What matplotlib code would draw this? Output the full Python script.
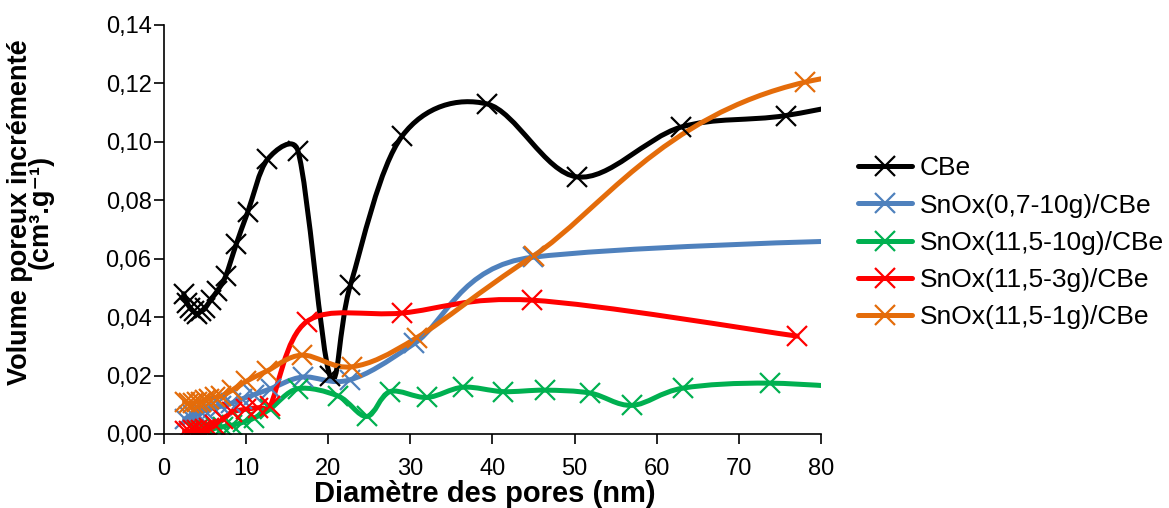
import numpy as np
import matplotlib.pyplot as plt
from matplotlib.path import Path
from matplotlib.patches import PathPatch
from matplotlib.lines import Line2D

plt.rcParams['font.family'] = ['Liberation Sans', 'DejaVu Sans']

# Données (diamètre en nm, volume en cm3/g)
cbe_x = [2.4, 2.8, 3.2, 3.6, 4.0, 4.5, 5.0, 5.7, 6.5, 7.5, 8.8, 10.2, 12.6, 16.3, 20.2, 22.7, 29.0, 39.3, 50.3, 62.9, 75.7, 90.0]
cbe_y = [0.048, 0.045, 0.043, 0.042, 0.041, 0.042, 0.043, 0.046, 0.049, 0.054, 0.065, 0.076, 0.094, 0.097, 0.020, 0.051, 0.102, 0.113, 0.088, 0.105, 0.109, 0.117]

sn07_x = [2.5, 3.0, 3.5, 4.0, 4.5, 5.0, 6.0, 7.0, 8.2, 9.5, 11.0, 13.0, 16.9, 22.6, 30.5, 44.9, 150.0]
sn07_y = [0.005, 0.006, 0.0065, 0.007, 0.0075, 0.008, 0.009, 0.0095, 0.0105, 0.012, 0.0135, 0.0155, 0.0195, 0.0185, 0.031, 0.0605, 0.0705]

sn10_x = [4.0, 4.5, 5.0, 5.5, 6.3, 7.2, 8.3, 9.6, 11.0, 12.9, 16.3, 21.2, 24.7, 27.5, 32.0, 36.4, 41.3, 46.4, 51.9, 57.0, 63.2, 73.8, 88.0]
sn10_y = [0.0008, 0.001, 0.0012, 0.0015, 0.002, 0.0025, 0.003, 0.004, 0.0055, 0.0085, 0.0155, 0.013, 0.006, 0.0145, 0.0125, 0.016, 0.0145, 0.015, 0.014, 0.0098, 0.0157, 0.0174, 0.015]

sn3_x = [2.5, 3.0, 3.5, 4.0, 4.5, 5.0, 5.5, 6.2, 7.2, 8.3, 10.0, 11.5, 12.9, 17.4, 29.0, 44.8, 77.1]
sn3_y = [0.001, 0.001, 0.0012, 0.0013, 0.0015, 0.0018, 0.002, 0.003, 0.005, 0.0075, 0.0085, 0.009, 0.0095, 0.0385, 0.0414, 0.0458, 0.0335]

sn1_x = [2.5, 3.0, 3.5, 4.0, 4.5, 5.0, 5.5, 6.2, 7.0, 8.3, 10.0, 12.5, 16.8, 22.9, 30.8, 45.0, 78.0, 150.0]
sn1_y = [0.011, 0.0105, 0.0105, 0.011, 0.011, 0.0115, 0.012, 0.0125, 0.013, 0.015, 0.018, 0.0215, 0.027, 0.023, 0.033, 0.061, 0.1204, 0.130]

series_names = ['CBe', 'SnOx(0,7-10g)/CBe', 'SnOx(11,5-10g)/CBe', 'SnOx(11,5-3g)/CBe', 'SnOx(11,5-1g)/CBe']
series_colors = ['#000000', '#4F81BD', '#00B050', '#FF0000', '#E46C0A']
series_x = [cbe_x, sn07_x, sn10_x, sn3_x, sn1_x]
series_y = [cbe_y, sn07_y, sn10_y, sn3_y, sn1_y]

x_ticks = [0, 10, 20, 30, 40, 50, 60, 70, 80]
y_ticks = [0.00, 0.02, 0.04, 0.06, 0.08, 0.10, 0.12, 0.14]


def courbe_lissee(ax, xs, ys):
    # lissage type Excel : Bezier de Catmull-Rom (1/6), poignées limitées
    # à la moitié du segment (mesuré à l'écran) pour éviter les dépassements
    pts = np.column_stack([xs, ys]).astype(float)
    ecran = ax.transData.transform(pts)
    n = len(pts)

    def poignee(a, b, seg):
        t = (pts[b] - pts[a]) / 6
        lt = np.hypot(*((ecran[b] - ecran[a]) / 6))
        if lt > 0.5 * seg:
            t = t * 0.5 * seg / lt
        return t

    verts = [pts[0]]
    codes = [Path.MOVETO]
    for i in range(n - 1):
        i0 = max(i - 1, 0)
        i3 = min(i + 2, n - 1)
        seg = np.hypot(*(ecran[i + 1] - ecran[i]))
        verts += [pts[i] + poignee(i0, i + 1, seg), pts[i + 1] - poignee(i, i3, seg), pts[i + 1]]
        codes += [Path.CURVE4] * 3
    return Path(verts, codes)


fig = plt.figure(figsize=(11.69, 5.08), dpi=100)
ax = fig.add_axes([0.1403, 0.1457, 0.5620, 0.8051])
ax.set_xlim(0, 80)
ax.set_ylim(0, 0.14)

handles = []
for xs, ys, col, nom in zip(series_x, series_y, series_colors, series_names):
    ax.add_patch(PathPatch(courbe_lissee(ax, xs, ys), facecolor='none', edgecolor=col,
                           lw=3.6, capstyle='round', joinstyle='round'))
    ax.plot(xs, ys, 'x', color=col, ms=14, mew=1.6)
    handles.append(Line2D([], [], color=col, lw=3.6, marker='x', ms=14, mew=1.6,
                          solid_capstyle='round'))

ax.set_xlim(0, 80)
ax.set_ylim(0, 0.14)
ax.set_xticks(x_ticks)
ax.set_yticks(y_ticks)
ax.set_xticklabels([str(t) for t in x_ticks])
ax.set_yticklabels([f'{t:.2f}'.replace('.', ',') for t in y_ticks])
ax.tick_params(labelsize=17, length=7, width=1.2, direction='out')
ax.tick_params(axis='x', pad=10)
ax.tick_params(axis='y', pad=2)
for s in ['top', 'right']:
    ax.spines[s].set_visible(False)
for s in ['left', 'bottom']:
    ax.spines[s].set_linewidth(1.2)

ax.set_xlabel('Diamètre des pores (nm)', fontsize=21, fontweight='bold', labelpad=0)
ax.xaxis.label.set_x(0.489)
ax.set_ylabel('Volume poreux incrémenté\n(cm³.g⁻¹)', fontsize=19.5, fontweight='bold',
              linespacing=0.75)
ax.yaxis.set_label_coords(-0.168, 0.543)

fig.legend(handles, series_names, loc='center left', bbox_to_anchor=(0.734, 0.522),
           frameon=False, fontsize=19, handlelength=2.05, handletextpad=0.3,
           labelspacing=0.5, borderpad=0, borderaxespad=0)

fig.savefig('out.png', dpi=100)
